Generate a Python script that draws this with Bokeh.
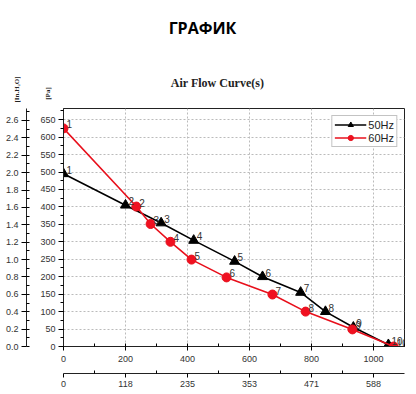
import math
from bokeh.plotting import figure
from bokeh.layouts import column, row
from bokeh.models import (Range1d, LinearAxis, SingleIntervalTicker, FixedTicker,
                          ColumnDataSource, Legend, CustomJSTickFormatter)
from bokeh.core.properties import value
from bokeh.embed import file_html
from bokeh.resources import INLINE

# ---- data ----
flow_50 = [0, 200, 315, 420, 552, 642, 765, 845, 935, 1048]
pa_50 = [495, 405, 354, 304, 244, 200, 155, 100, 55, 5]
flow_60 = [0, 235, 281, 345, 413, 526, 674, 781, 932, 1065]
pa_60 = [625, 401, 351, 300, 249, 198, 149, 100, 49, 0]
point_ids = ["1", "2", "3", "4", "5", "6", "7", "8", "9", "10"]
cfm_ticks = [0, 200, 400, 600, 800, 1000]
cfm_labels = ["0", "118", "235", "353", "471", "588"]
PA_PER_INH2O = 249.089

X_MAX = 1100
Y_MAX = 682

W = 416
HEAD_H = 107
MAIN_H = 287

# ---------- header (titles and unit captions) ----------
h = figure(width=W, height=HEAD_H, x_range=Range1d(0, W), y_range=Range1d(0, HEAD_H),
           output_backend="svg", toolbar_location=None, min_border=0,
           x_axis_location=None, y_axis_location=None)
h.grid.visible = False
h.outline_line_color = None
h.background_fill_color = "white"
h.border_fill_color = "white"

h.text(x=[202], y=[80], text=["ГРАФИК"], text_font=value("Open Sans"), text_font_style="bold",
       text_font_size="16px", text_color="black", text_align="center", text_baseline="middle")
h.text(x=[217], y=[25], text=["Air Flow Curve(s)"], text_font=value("Liberation Serif"),
       text_font_style="bold", text_font_size="12px", text_color="#222222",
       text_align="center", text_baseline="middle")
h.text(x=[16], y=[18], text=["[In.H₂O]"], text_font=value("Liberation Serif"), text_font_style="bold",
       text_font_size="7px", text_color="#222222", text_align="center", text_baseline="middle",
       angle=math.pi / 2)
h.text(x=[47], y=[14], text=["[Pa]"], text_font=value("Liberation Serif"), text_font_style="bold",
       text_font_size="7px", text_color="#222222", text_align="center", text_baseline="middle",
       angle=math.pi / 2)

# ---------- main chart ----------
p = figure(width=W, height=MAIN_H, x_range=Range1d(0, X_MAX), y_range=Range1d(0, Y_MAX),
           output_backend="svg", toolbar_location=None,
           min_border_left=63, min_border_right=12, min_border_top=1, min_border_bottom=48)
p.background_fill_color = "white"
p.border_fill_color = "white"
p.outline_line_color = "#222222"
p.outline_line_width = 1

tick_font = "Liberation Sans"
tick_color = "#333333"

# Pa axis (default)
ya = p.yaxis[0]
ya.ticker = SingleIntervalTicker(interval=50, num_minor_ticks=2)
ya.major_label_text_font = tick_font
ya.major_label_text_font_size = "9px"
ya.major_label_text_color = tick_color
ya.major_tick_out = 5
ya.major_tick_in = 0
ya.minor_tick_out = 3
ya.minor_tick_in = 0
ya.major_label_standoff = 3
ya.axis_label = " "
ya.axis_label_text_font_size = "2px"
ya.axis_label_standoff = 6
ya.axis_line_color = "#222222"

# inch H2O axis
p.extra_y_ranges = {"inch": Range1d(0, Y_MAX / PA_PER_INH2O)}
ia = LinearAxis(y_range_name="inch", ticker=SingleIntervalTicker(interval=0.2, num_minor_ticks=2))
ia.major_label_text_font = tick_font
ia.major_label_text_font_size = "9px"
ia.major_label_text_color = tick_color
ia.major_tick_out = 5
ia.major_tick_in = 0
ia.minor_tick_out = 0
ia.minor_tick_in = 3
ia.major_label_standoff = 3
ia.axis_line_color = "#222222"
ia.formatter = CustomJSTickFormatter(code="return tick.toFixed(1);")
p.add_layout(ia, "left")

# m3/h axis (default)
xa = p.xaxis[0]
xa.ticker = SingleIntervalTicker(interval=200, num_minor_ticks=2)
xa.major_label_text_font = tick_font
xa.major_label_text_font_size = "9px"
xa.major_label_text_color = tick_color
xa.major_tick_out = 4
xa.major_tick_in = 0
xa.minor_tick_out = 0
xa.minor_tick_in = 3
xa.major_label_standoff = 5
xa.axis_label = " "
xa.axis_label_text_font_size = "2px"
xa.axis_label_standoff = 4
xa.axis_line_color = "#222222"

# CFM axis
ca = LinearAxis(ticker=FixedTicker(ticks=cfm_ticks, minor_ticks=[100, 300, 500, 700, 900]))
ca.major_label_overrides = {t: l for t, l in zip(cfm_ticks, cfm_labels)}
ca.major_label_text_font = tick_font
ca.major_label_text_font_size = "9px"
ca.major_label_text_color = tick_color
ca.major_tick_out = 4
ca.major_tick_in = 0
ca.minor_tick_out = 0
ca.minor_tick_in = 3
ca.major_label_standoff = 3
ca.axis_line_color = "#222222"
p.add_layout(ca, "below")

# grid
p.xgrid.ticker = SingleIntervalTicker(interval=200)
p.ygrid.ticker = SingleIntervalTicker(interval=50)
for g in (p.xgrid[0], p.ygrid[0]):
    g.grid_line_color = "#bbbbbb"
    g.grid_line_dash = "2 2"
    g.grid_line_width = 1

s50 = ColumnDataSource(dict(x=flow_50, y=pa_50, t=point_ids))
s60 = ColumnDataSource(dict(x=flow_60, y=pa_60, t=point_ids))

l50 = p.line("x", "y", source=s50, line_color="black", line_width=1.6)
m50 = p.scatter("x", "y", source=s50, marker="triangle", size=10, fill_color="black", line_color="black")
l60 = p.line("x", "y", source=s60, line_color="#e8101c", line_width=1.6)
m60 = p.scatter("x", "y", source=s60, marker="circle", size=9, fill_color="#f01020", line_color="#e8101c")

for src in (s50, s60):
    p.text("x", "y", text="t", source=src, x_offset=3, y_offset=-4,
           text_font=value("Liberation Sans"), text_font_size="10px", text_color="#333333",
           text_baseline="middle", text_align="left")

legend = Legend(items=[("50Hz", [l50, m50]), ("60Hz", [l60, m60])], location="top_right")
legend.label_text_font = "Liberation Sans"
legend.label_text_font_size = "11px"
legend.label_text_color = "#222222"
legend.border_line_color = "#888888"
legend.border_line_width = 1
legend.padding = 2
legend.spacing = 0
legend.margin = 7
legend.glyph_width = 32
legend.glyph_height = 13
legend.label_height = 13
legend.label_standoff = 2
legend.background_fill_alpha = 1
p.add_layout(legend)

open("out.html", "w").write(file_html(column(row(h), row(p), spacing=0), INLINE))
